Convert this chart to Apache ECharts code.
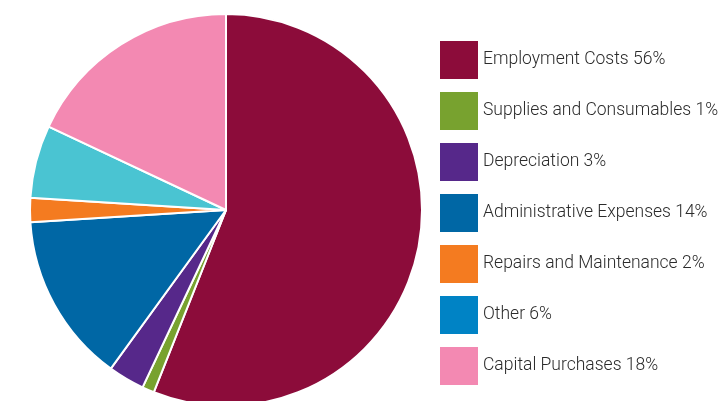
<!DOCTYPE html>
<html>
<head>
<meta charset="utf-8">
<script src="https://cdn.jsdelivr.net/npm/echarts@6/dist/echarts.min.js"></script>
<style>
  html, body { margin: 0; padding: 0; background: #fff; }
  #chart { width: 728px; height: 401px; }
</style>
</head>
<body>
<div id="chart"></div>
<script>
// Expenditure breakdown (percent of total)
const categories = [
  'Employment Costs',
  'Supplies and Consumables',
  'Depreciation',
  'Administrative Expenses',
  'Repairs and Maintenance',
  'Other',
  'Capital Purchases'
];
const shares = [56, 1, 3, 14, 2, 6, 18];
const sliceColors = ['#8c0c3a', '#78a22f', '#56288a', '#0067a5', '#f47b20', '#4ac4d2', '#f389b2'];
const keyColors   = ['#8c0c3a', '#78a22f', '#56288a', '#0067a5', '#f47b20', '#0083c5', '#f389b2'];

const pieData = categories.map((name, i) => ({
  name: name,
  value: shares[i],
  itemStyle: { color: sliceColors[i] }
}));

// Key swatches are plain squares without the slice outline
const legendData = categories.map((name, i) => ({
  name: name,
  itemStyle: { color: keyColors[i], borderWidth: 0 }
}));

const chart = echarts.init(document.getElementById('chart'), null, { renderer: 'canvas' });
chart.setOption({
  animation: false,
  legend: {
    orient: 'vertical',
    left: 440,
    top: 41,
    height: 360,
    padding: 0,
    icon: 'rect',
    itemWidth: 38,
    itemHeight: 38,
    itemGap: 13,
    selectedMode: false,
    itemStyle: { borderWidth: 0 },
    data: legendData,
    formatter: function (name) {
      return name + ' ' + shares[categories.indexOf(name)] + '%';
    },
    textStyle: {
      fontFamily: 'Roboto',
      fontWeight: 300,
      fontSize: 17.5,
      color: '#2b2b2b'
    }
  },
  series: [{
    type: 'pie',
    center: [226, 210],
    radius: [0, 196],
    startAngle: 90,
    clockwise: true,
    silent: true,
    label: { show: false },
    labelLine: { show: false },
    itemStyle: { borderColor: '#ffffff', borderWidth: 2 },
    data: pieData
  }]
});
</script>
</body>
</html>
